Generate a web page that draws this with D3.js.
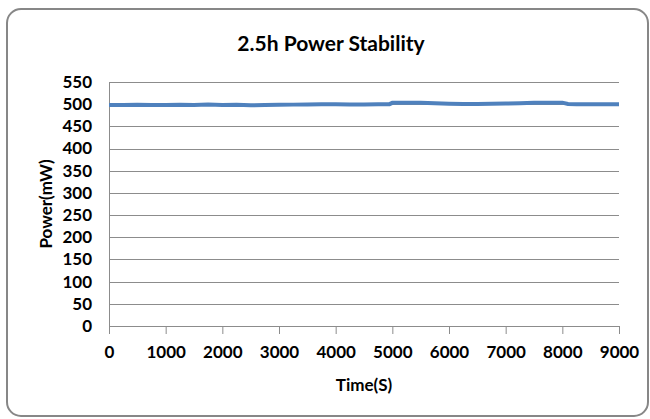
<!DOCTYPE html>
<html>
<head>
<meta charset="utf-8">
<script src="https://d3js.org/d3.v7.min.js"></script>
<style>
  body { margin: 0; background: #fff; }
  text { font-family: Lato, "Open Sans", sans-serif; font-weight: bold; fill: #000; }
</style>
</head>
<body>
<script>
// readings (time in s, power in mW)
var times = [0, 250, 500, 750, 1000, 1250, 1500, 1750, 2000, 2250, 2500, 2750, 3000, 3250, 3500,
             3750, 4000, 4250, 4500, 4750, 4950, 5000, 5250, 5500, 5750, 6000, 6250, 6500, 6750,
             7000, 7250, 7500, 7750, 8000, 8100, 8250, 8500, 8750, 9000];
var power = [498, 498, 498.5, 498, 498, 498.5, 498, 499, 498, 498.5, 497.5, 498, 498.5, 499, 499.5,
             500, 500, 499.5, 499.5, 500, 500, 503, 503.5, 503, 502, 501, 500.5, 500.5, 501,
             501.5, 502, 503, 503, 503.5, 500.5, 500, 500, 500, 500];
var xTicks = [0, 1000, 2000, 3000, 4000, 5000, 6000, 7000, 8000, 9000];
var yTicks = [0, 50, 100, 150, 200, 250, 300, 350, 400, 450, 500, 550];

var W = 650, H = 419;
var margin = {top: 82, right: 31, bottom: 93, left: 109},
    width = W - margin.left - margin.right,
    height = H - margin.top - margin.bottom;

var svg = d3.select("body").append("svg")
    .attr("width", W)
    .attr("height", H);

// chart area frame
svg.append("rect")
    .attr("x", 7).attr("y", 9)
    .attr("width", 641).attr("height", 407)
    .attr("rx", 14).attr("ry", 14)
    .attr("fill", "#fff")
    .attr("stroke", "#878787")
    .attr("stroke-width", 2);

var x = d3.scaleLinear().domain([0, 9000]).range([0, width]);
var y = d3.scaleLinear().domain([0, 550]).range([height, 0]);

var g = svg.append("g")
    .attr("transform", "translate(" + margin.left + "," + margin.top + ")");

// gridlines
g.append("g")
  .selectAll("line")
  .data(yTicks)
  .enter().append("line")
    .attr("x1", 0).attr("x2", width)
    .attr("y1", function(d) { return Math.round(y(d)) + 0.5; })
    .attr("y2", function(d) { return Math.round(y(d)) + 0.5; })
    .attr("stroke", "#8c8c8c")
    .attr("stroke-width", 1);

// y axis
var yAxis = g.append("g")
    .call(d3.axisLeft(y).tickValues(yTicks).tickSize(0).tickPadding(17));
yAxis.select(".domain").attr("stroke", "#8c8c8c");
yAxis.selectAll("text").style("font-size", "17px");

// x axis
var xAxis = g.append("g")
    .attr("transform", "translate(0," + height + ")")
    .call(d3.axisBottom(x).tickValues(xTicks).tickSize(8).tickPadding(12).tickFormat(d3.format("d")));
xAxis.select(".domain").attr("stroke", "#8c8c8c");
xAxis.selectAll("line").attr("stroke", "#8c8c8c");
xAxis.selectAll("text").style("font-size", "17px");

// series
var line = d3.line()
    .x(function(d, i) { return x(times[i]); })
    .y(function(d) { return y(d); });

g.append("path")
    .datum(power)
    .attr("fill", "none")
    .attr("stroke", "#4f81bd")
    .attr("stroke-width", 4)
    .attr("d", line);

// titles
svg.append("text")
    .attr("x", 331).attr("y", 51)
    .attr("text-anchor", "middle")
    .style("font-size", "21px")
    .text("2.5h Power Stability");

svg.append("text")
    .attr("x", margin.left + width / 2).attr("y", 391)
    .attr("text-anchor", "middle")
    .style("font-size", "17px")
    .text("Time(S)");

svg.append("text")
    .attr("transform", "translate(52," + (margin.top + height / 2) + ") rotate(-90)")
    .attr("text-anchor", "middle")
    .style("font-size", "17px")
    .text("Power(mW)");
</script>
</body>
</html>
